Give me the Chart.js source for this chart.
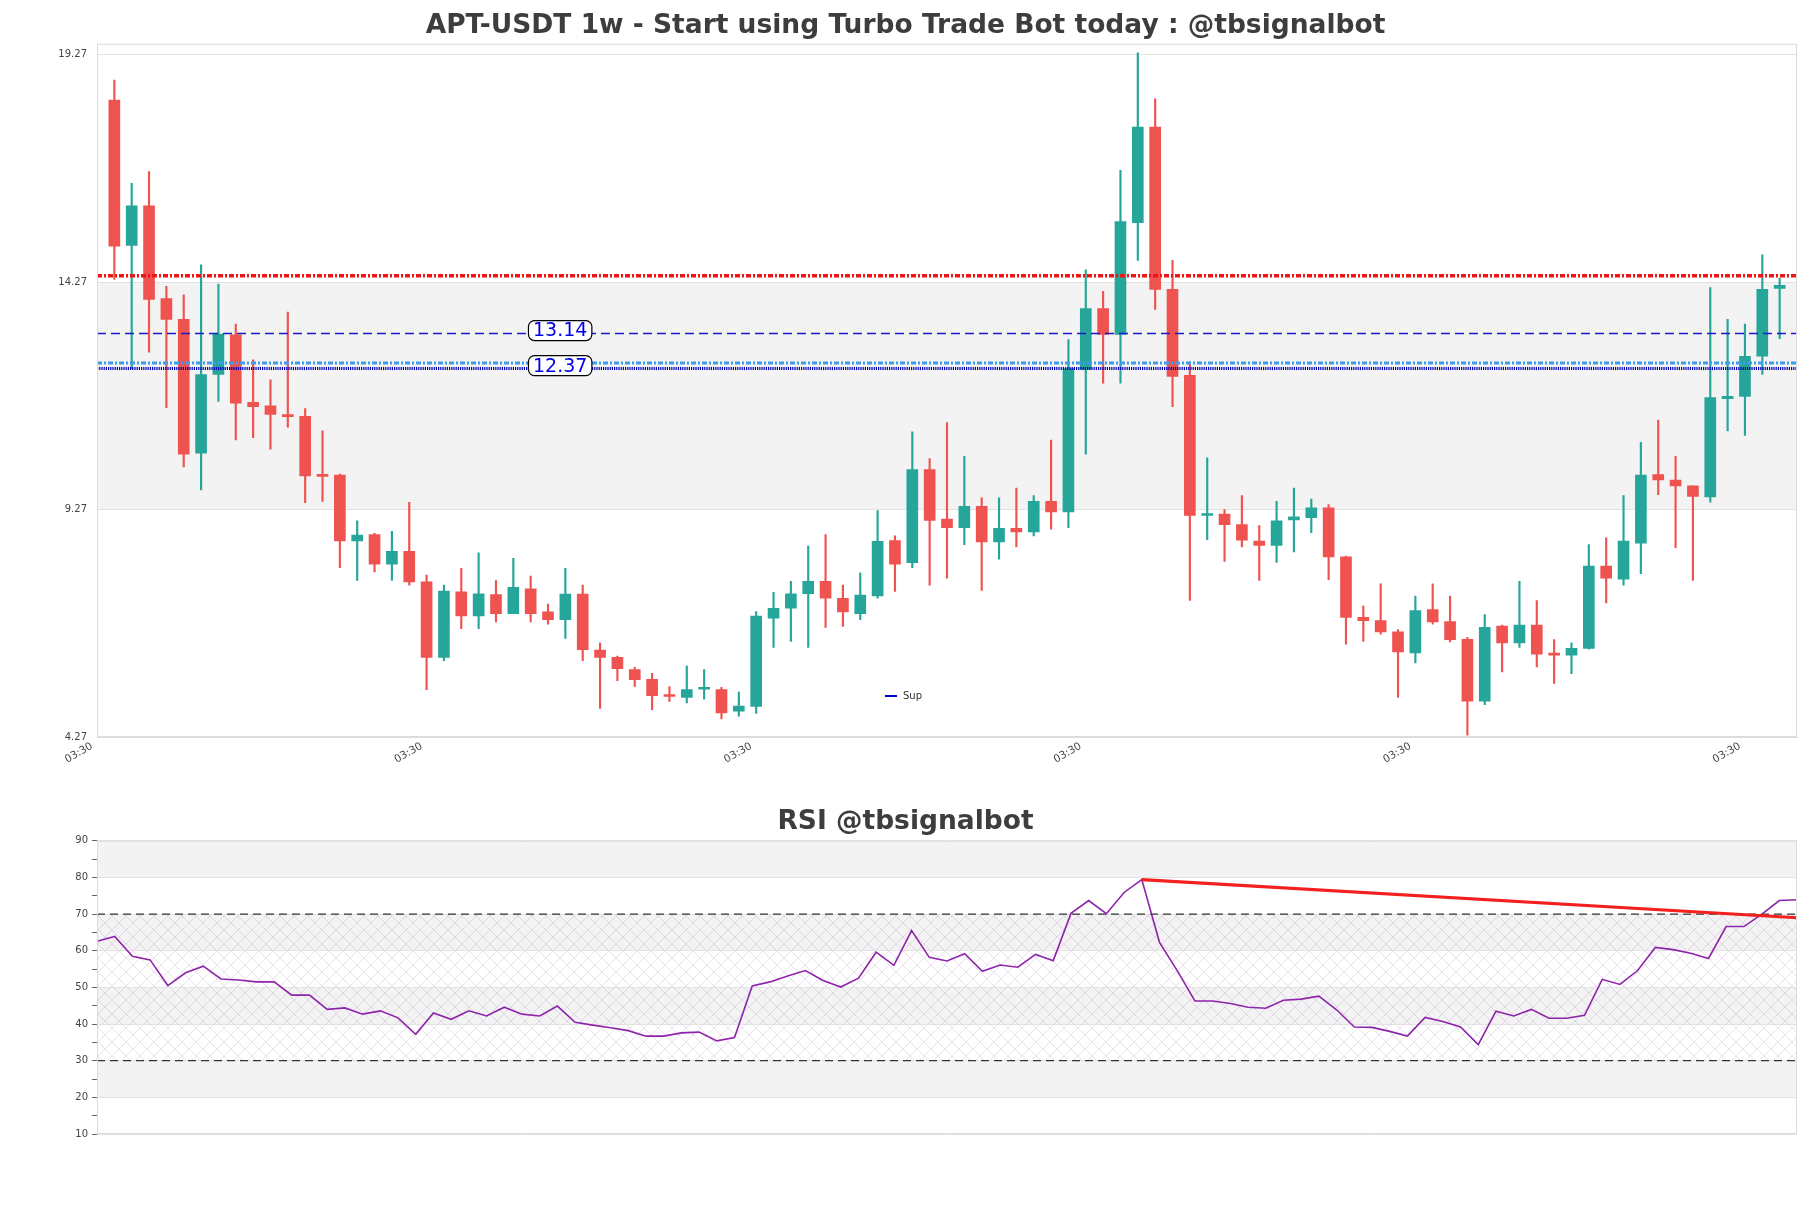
<!DOCTYPE html>
<html>
<head>
<meta charset="utf-8">
<script src="https://cdn.jsdelivr.net/npm/chart.js@4.4.0/dist/chart.umd.min.js"></script>
<style>
  html, body { margin: 0; padding: 0; background: #fff; }
  #wrap { position: relative; width: 1811px; height: 1208px; }
  #priceBox { position: absolute; left: 0; top: 0; width: 1811px; height: 790px; }
  #rsiBox { position: absolute; left: 0; top: 790px; width: 1811px; height: 418px; }
</style>
</head>
<body>
<div id="wrap">
  <div id="priceBox"><canvas id="priceChart"></canvas></div>
  <div id="rsiBox"><canvas id="rsiChart"></canvas></div>
</div>
<script>
// weekly candles
const opens = [18.27, 15.08, 15.95, 13.91, 13.45, 10.51, 12.24, 13.11, 11.63, 11.55,
  11.36, 11.32, 10.03, 10.03, 8.58, 8.72, 8.07, 8.35, 7.68, 6.02,
  7.46, 6.93, 7.40, 6.98, 7.53, 7.02, 6.85, 7.41, 6.18, 6.02,
  5.75, 5.54, 5.18, 5.14, 5.32, 5.31, 4.84, 4.94, 6.88, 7.10,
  7.42, 7.69, 7.32, 6.98, 7.37, 8.59, 8.10, 10.15, 9.06, 8.87,
  9.34, 8.56, 8.86, 8.78, 9.45, 9.22, 12.35, 13.69, 13.12, 15.58,
  17.68, 14.11, 12.22, 9.14, 9.17, 8.94, 8.58, 8.48, 9.04, 9.09,
  9.31, 8.23, 6.90, 6.83, 6.58, 6.12, 7.07, 6.81, 6.42, 5.06,
  6.71, 6.34, 6.73, 6.09, 6.07, 6.22, 8.03, 7.74, 8.53, 10.04,
  9.92, 9.79, 9.55, 11.71, 11.76, 12.64, 14.13];
const highs = [18.71, 16.44, 16.70, 14.18, 13.99, 14.65, 14.23, 13.35, 12.56, 12.12,
  13.61, 11.49, 11.00, 10.05, 9.02, 8.75, 8.79, 9.43, 7.83, 7.61,
  7.98, 8.32, 7.71, 8.20, 7.81, 7.19, 7.98, 7.61, 6.34, 6.05,
  5.80, 5.67, 5.38, 5.83, 5.75, 5.36, 5.26, 7.03, 7.45, 7.69,
  8.47, 8.72, 7.61, 7.88, 9.25, 8.69, 10.98, 10.39, 11.18, 10.44,
  9.53, 9.53, 9.74, 9.58, 10.80, 13.01, 14.54, 14.07, 16.73, 19.31,
  18.30, 14.75, 12.52, 10.41, 9.27, 9.58, 8.92, 9.45, 9.74, 9.50,
  9.38, 8.25, 7.15, 7.64, 6.63, 7.37, 7.64, 7.37, 6.46, 6.96,
  6.73, 7.69, 7.27, 6.41, 6.34, 8.50, 8.65, 9.58, 10.75, 11.24,
  10.44, 9.79, 14.15, 13.45, 13.35, 14.87, 14.36];
const lows = [14.33, 12.37, 12.73, 11.51, 10.21, 9.70, 11.65, 10.80, 10.85, 10.60,
  11.08, 9.42, 9.45, 7.99, 7.71, 7.90, 7.71, 7.61, 5.31, 5.95,
  6.65, 6.65, 6.80, 7.03, 6.80, 6.75, 6.44, 5.95, 4.90, 5.51,
  5.38, 4.87, 5.05, 5.02, 5.10, 4.67, 4.73, 4.79, 6.24, 6.37,
  6.24, 6.68, 6.70, 6.85, 7.32, 7.47, 7.99, 7.61, 7.76, 8.50,
  7.49, 8.18, 8.45, 8.69, 8.84, 8.87, 10.49, 12.05, 12.05, 14.75,
  13.67, 11.53, 7.27, 8.61, 8.13, 8.45, 7.71, 8.11, 8.34, 8.76,
  7.73, 6.31, 6.37, 6.53, 5.14, 5.90, 6.75, 6.36, 4.31, 4.98,
  5.70, 6.24, 5.81, 5.45, 5.66, 6.20, 7.22, 7.61, 7.86, 9.60,
  8.43, 7.71, 9.43, 11.00, 10.90, 12.24, 13.03];
const closes = [15.06, 15.95, 13.89, 13.45, 10.49, 12.24, 13.13, 11.61, 11.53, 11.36,
  11.31, 10.01, 10.00, 8.58, 8.71, 8.07, 8.35, 7.68, 6.02, 7.48,
  6.93, 7.42, 6.98, 7.56, 6.98, 6.85, 7.41, 6.19, 6.02, 5.77,
  5.53, 5.18, 5.16, 5.31, 5.34, 4.80, 4.95, 6.93, 7.10, 7.42,
  7.69, 7.32, 7.02, 7.39, 8.57, 8.07, 10.15, 9.03, 8.87, 9.34,
  8.56, 8.86, 8.78, 9.45, 9.22, 12.37, 13.69, 13.12, 15.60, 17.68,
  14.11, 12.20, 9.14, 9.17, 8.94, 8.60, 8.48, 9.02, 9.11, 9.31,
  8.23, 6.90, 6.83, 6.58, 6.14, 7.05, 6.80, 6.41, 5.06, 6.68,
  6.34, 6.73, 6.09, 6.07, 6.22, 8.03, 7.76, 8.58, 10.03, 9.92,
  9.79, 9.56, 11.73, 11.76, 12.64, 14.11, 14.20];

const rsiValues = [62.6, 63.9, 58.5, 57.5, 50.5, 54.0, 55.8, 52.3, 52.0, 51.5,
  51.5, 47.9, 47.9, 44.0, 44.4, 42.7, 43.6, 41.7, 37.2, 43.0,
  41.3, 43.6, 42.2, 44.6, 42.7, 42.2, 44.9, 40.5, 39.7, 39.0,
  38.2, 36.7, 36.7, 37.6, 37.8, 35.4, 36.3, 50.4, 51.5, 53.1,
  54.6, 51.9, 50.1, 52.5, 59.6, 56.0, 65.5, 58.2, 57.2, 59.2,
  54.4, 56.1, 55.5, 59.0, 57.3, 70.2, 73.7, 70.1, 75.9, 79.4,
  62.3, 54.6, 46.3, 46.3, 45.6, 44.6, 44.3, 46.5, 46.8, 47.6,
  43.9, 39.2, 39.1, 38.0, 36.7, 41.8, 40.7, 39.2, 34.4, 43.5,
  42.2, 44.0, 41.6, 41.6, 42.4, 52.2, 50.8, 54.6, 60.9, 60.3,
  59.3, 57.9, 66.6, 66.6, 69.9, 73.7, 73.9];

// RSI trend line: from the peak to the last bar
const trendX = [59, 96];
const trendY = [79.4, 69.0];

// horizontal levels on the price panel
const resistanceLevel = 14.41;
const pivotLevel = 13.14;
const supportZoneLevel = 12.49;
const supportLevel = 12.37;
const levelLabels = ['13.14', '12.37'];
const levelLabelValues = [13.14, 12.37];

const xTickIdx = [-1, 18, 37, 56, 75, 94];
const xTickLabels = ['03:30', '03:30', '03:30', '03:30', '03:30', '03:30'];
const priceTicks = [4.27, 9.27, 14.27, 19.27];
const priceBands = [[9.27, 14.27]];
const rsiBands = [[20, 30], [40, 50], [60, 70], [80, 90]];
const rsiHatch = [30, 70];

const FONT = 'DejaVu Sans';
const UP = '#26a69a', DOWN = '#ef5350';
const idx = opens.map((_, i) => i);
const candleColors = idx.map(i => closes[i] >= opens[i] ? UP : DOWN);

const bandsPlugin = {
  id: 'bands',
  beforeDraw(chart, args, opts) {
    const {ctx, chartArea: a, scales: {y}} = chart;
    ctx.save();
    ctx.fillStyle = '#f3f3f3';
    (opts.bands || []).forEach(([lo, hi]) => {
      const t = y.getPixelForValue(hi), b = y.getPixelForValue(lo);
      ctx.fillRect(a.left, t, a.right - a.left, b - t);
    });
    if (opts.hatch) {
      const c = document.createElement('canvas');
      c.width = 14; c.height = 14;
      const g = c.getContext('2d');
      g.strokeStyle = 'rgba(150,105,175,0.25)';
      g.lineWidth = 0.8;
      g.beginPath();
      g.moveTo(0, 0); g.lineTo(14, 14);
      g.moveTo(14, 0); g.lineTo(0, 14);
      g.stroke();
      ctx.fillStyle = ctx.createPattern(c, 'repeat');
      const t = y.getPixelForValue(opts.hatch[1]), b = y.getPixelForValue(opts.hatch[0]);
      ctx.fillRect(a.left, t, a.right - a.left, b - t);
    }
    ctx.restore();
  },
  afterDraw(chart) {
    const {ctx, chartArea: a} = chart;
    ctx.save();
    ctx.strokeStyle = '#dcdcdc';
    ctx.lineWidth = 1;
    ctx.strokeRect(a.left + 0.5, a.top + 0.5, a.right - a.left - 1, a.bottom - a.top - 1);
    ctx.restore();
  }
};

const levelLabelPlugin = {
  id: 'levelLabels',
  afterDatasetsDraw(chart) {
    const {ctx, chartArea: a, scales: {x, y}} = chart;
    ctx.save();
    ctx.font = '19px "' + FONT + '"';
    ctx.textAlign = 'center';
    ctx.textBaseline = 'middle';
    const cx = x.getPixelForValue(25.7);
    levelLabels.forEach((txt, k) => {
      const cy = y.getPixelForValue(levelLabelValues[k]) - 3;
      const w = ctx.measureText(txt).width + 9, h = 20;
      ctx.beginPath();
      ctx.roundRect(cx - w / 2, cy - h / 2, w, h, 6);
      ctx.fillStyle = '#ffffff';
      ctx.fill();
      ctx.strokeStyle = '#000';
      ctx.lineWidth = 1.2;
      ctx.stroke();
      ctx.fillStyle = '#0000ee';
      ctx.fillText(txt, cx, cy + 1);
    });
    // legend "Sup"
    const lx = a.left + 788, ly = a.bottom - 41;
    ctx.strokeStyle = '#0000cc';
    ctx.lineWidth = 2;
    ctx.beginPath();
    ctx.moveTo(lx, ly); ctx.lineTo(lx + 12, ly);
    ctx.stroke();
    ctx.font = '10px "' + FONT + '"';
    ctx.textAlign = 'left';
    ctx.fillStyle = '#333';
    ctx.fillText('Sup', lx + 18, ly);
    ctx.restore();
  }
};

function levelLine(value, color, width, dash) {
  return {
    type: 'line',
    data: [{x: -1, y: value}, {x: 97, y: value}],
    borderColor: color,
    borderWidth: width,
    borderDash: dash,
    pointRadius: 0,
    order: 0
  };
}

// empty right-hand axis that only reserves the right margin
const rightGap = {
  position: 'right',
  display: true,
  grid: {display: false},
  border: {display: false},
  ticks: {display: false},
  afterFit: s => { s.width = 14; }
};

new Chart(document.getElementById('priceChart'), {
  type: 'bar',
  data: {
    datasets: [
      levelLine(resistanceLevel, '#ee1515', 3.5, [5, 2, 2, 2]),
      levelLine(pivotLevel, '#1a1acc', 1.4, [9, 5]),
      levelLine(supportZoneLevel, '#3b9cf0', 3, [5, 2, 2, 2]),
      levelLine(supportLevel, '#0000bb', 3, [1.2, 1]),
      {
        label: 'wick',
        data: idx.map(i => ({x: i, y: [lows[i], highs[i]]})),
        backgroundColor: candleColors,
        barThickness: 1.5,
        grouped: false,
        order: 2
      },
      {
        label: 'body',
        data: idx.map(i => ({x: i, y: [opens[i], closes[i]]})),
        backgroundColor: candleColors,
        barThickness: 11,
        minBarLength: 2,
        grouped: false,
        order: 1
      }
    ]
  },
  options: {
    responsive: true,
    maintainAspectRatio: false,
    animation: false,
    events: [],
    layout: {padding: 0},
    plugins: {
      legend: {display: false},
      tooltip: {enabled: false},
      title: {
        display: true,
        text: 'APT-USDT 1w - Start using Turbo Trade Bot today : @tbsignalbot',
        font: {family: FONT, size: 26.5, weight: 'bold'},
        color: '#3d3d3d',
        padding: {top: 10, bottom: 2}
      },
      bands: {bands: priceBands}
    },
    scales: {
      x: {
        type: 'linear',
        min: -1,
        max: 97,
        offset: false,
        afterBuildTicks: s => { s.ticks = xTickIdx.map(v => ({value: v})); },
        afterFit: s => { s.height = 53; },
        grid: {display: false},
        border: {display: true, color: '#dcdcdc'},
        ticks: {
          autoSkip: false,
          minRotation: 30,
          maxRotation: 30,
          padding: -5,
          labelOffset: -5,
          color: '#444',
          font: {family: FONT, size: 10.5},
          callback: (v, i) => xTickLabels[i]
        }
      },
      y: {
        min: 4.27,
        max: 19.51,
        afterBuildTicks: s => { s.ticks = priceTicks.map(v => ({value: v})); },
        afterFit: s => { s.width = 97; },
        grid: {color: '#e2e2e2', drawTicks: false},
        border: {color: '#dcdcdc'},
        ticks: {
          padding: 10,
          color: '#444',
          font: {family: FONT, size: 10},
          callback: v => Number(v).toFixed(2)
        }
      },
      yR: rightGap
    }
  },
  plugins: [bandsPlugin, levelLabelPlugin]
});

new Chart(document.getElementById('rsiChart'), {
  type: 'line',
  data: {
    datasets: [
      {
        label: 'trend',
        data: trendX.map((v, k) => ({x: v, y: trendY[k]})),
        borderColor: '#f42020',
        borderWidth: 3.2,
        pointRadius: 0,
        order: 0
      },
      {
        label: 'RSI',
        data: rsiValues.map((v, i) => ({x: i, y: v})),
        borderColor: '#8e24aa',
        borderWidth: 1.6,
        pointRadius: 0,
        tension: 0,
        order: 1
      },
      {
        label: 'overbought',
        data: [{x: 0, y: 70}, {x: 96, y: 70}],
        borderColor: '#333',
        borderWidth: 1.2,
        borderDash: [8, 5],
        pointRadius: 0,
        order: 2
      },
      {
        label: 'oversold',
        data: [{x: 0, y: 30}, {x: 96, y: 30}],
        borderColor: '#333',
        borderWidth: 1.2,
        borderDash: [8, 5],
        pointRadius: 0,
        order: 2
      }
    ]
  },
  options: {
    responsive: true,
    maintainAspectRatio: false,
    animation: false,
    events: [],
    layout: {padding: {left: 0, right: 0, top: 0, bottom: 74}},
    plugins: {
      legend: {display: false},
      tooltip: {enabled: false},
      title: {
        display: true,
        text: 'RSI @tbsignalbot',
        font: {family: FONT, size: 26.5, weight: 'bold'},
        color: '#3d3d3d',
        padding: {top: 16, bottom: 3}
      },
      bands: {bands: rsiBands, hatch: rsiHatch}
    },
    scales: {
      x: {type: 'linear', min: 0, max: 96, display: false},
      y: {
        min: 10,
        max: 90,
        afterFit: s => { s.width = 97; },
        grid: {
          color: c => (c.tick && c.tick.value % 10 === 0) ? '#e2e2e2' : 'rgba(0,0,0,0)',
          tickColor: '#666',
          tickLength: 5
        },
        border: {color: '#dcdcdc'},
        ticks: {
          stepSize: 5,
          padding: 4,
          color: '#444',
          font: {family: FONT, size: 10},
          callback: v => v % 10 === 0 ? String(v) : ''
        }
      },
      yR: rightGap
    }
  },
  plugins: [bandsPlugin]
});
</script>
</body>
</html>
